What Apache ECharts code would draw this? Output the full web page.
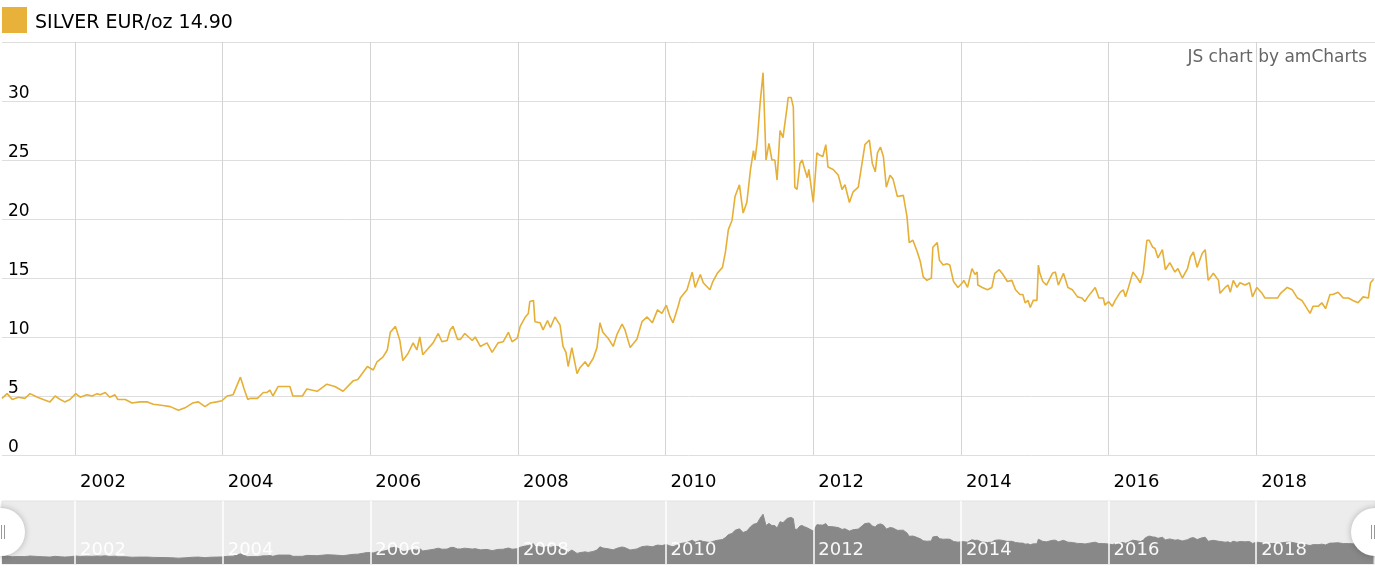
<!DOCTYPE html>
<html><head><meta charset="utf-8">
<script src="https://cdn.jsdelivr.net/npm/echarts@6/dist/echarts.min.js"></script>
<style>html,body{margin:0;padding:0;background:#fff}#c{width:1375px;height:575px}</style>
</head><body><div id="c"></div>
<script>
const seriesName = 'SILVER EUR/oz';
const creditText = 'JS chart by amCharts';
const yearTicks = [2002, 2004, 2006, 2008, 2010, 2012, 2014, 2016, 2018];
const xMin = 2001.01, xMax = 2019.61;

// dates as decimal years
const years = [
2001.01,2001.08,2001.15,2001.23,2001.32,2001.39,2001.49,2001.57,2001.66,2001.73,2001.80,2001.86,2001.93,
2002.01,2002.07,2002.16,2002.23,2002.30,2002.34,2002.41,2002.47,2002.54,2002.58,2002.68,2002.77,2002.88,2002.98,
2003.06,2003.19,2003.29,2003.40,2003.49,2003.59,2003.67,2003.76,2003.83,2003.92,2003.99,
2004.06,2004.14,2004.24,2004.29,2004.34,2004.37,2004.47,2004.55,2004.60,2004.64,2004.68,2004.75,2004.91,2004.95,
2005.08,2005.14,2005.28,2005.41,2005.52,2005.63,2005.77,2005.83,2005.96,
2006.04,2006.09,2006.17,2006.23,2006.27,2006.34,2006.36,2006.40,2006.44,2006.51,2006.58,2006.63,2006.67,2006.71,2006.78,2006.85,2006.92,2006.97,
2007.04,2007.08,2007.12,2007.18,2007.22,2007.28,2007.38,2007.42,2007.49,2007.58,2007.65,2007.73,2007.80,2007.87,2007.92,
2007.99,2008.03,2008.10,2008.14,2008.16,2008.21,2008.23,2008.30,2008.34,2008.40,2008.44,2008.50,2008.57,2008.61,2008.65,2008.68,2008.73,2008.80,2008.84,2008.91,2008.95,
2009.02,2009.07,2009.11,2009.15,2009.22,2009.29,2009.34,2009.41,2009.45,2009.52,2009.61,2009.68,2009.75,2009.82,2009.89,2009.95,
2010.01,2010.06,2010.10,2010.17,2010.20,2010.29,2010.36,2010.40,2010.47,2010.51,2010.60,2010.64,2010.70,2010.77,2010.81,2010.85,2010.90,2010.94,2011.00,
2011.05,2011.10,2011.15,2011.19,2011.21,2011.24,2011.28,2011.32,2011.33,2011.36,2011.38,2011.40,2011.44,2011.48,2011.51,2011.55,2011.59,2011.65,2011.66,2011.70,2011.73,2011.75,2011.78,2011.82,2011.85,2011.88,2011.92,2011.94,
2012.00,2012.05,2012.09,2012.13,2012.17,2012.20,2012.27,2012.34,2012.39,2012.43,2012.49,2012.54,2012.61,2012.66,2012.70,2012.76,2012.80,2012.84,2012.87,2012.91,2012.95,2012.99,
2013.04,2013.08,2013.14,2013.22,2013.27,2013.30,2013.35,2013.41,2013.45,2013.49,2013.54,2013.60,2013.62,2013.68,2013.71,2013.76,2013.81,2013.85,2013.90,2013.96,
2014.02,2014.04,2014.09,2014.15,2014.19,2014.22,2014.23,2014.29,2014.36,2014.42,2014.46,2014.52,2014.57,2014.63,2014.69,2014.74,2014.80,2014.84,2014.87,2014.91,2014.94,2014.98,
2015.03,2015.05,2015.07,2015.11,2015.16,2015.24,2015.28,2015.32,2015.39,2015.45,2015.51,2015.58,2015.64,2015.68,2015.72,2015.82,2015.87,2015.93,2015.95,2016.00,
2016.05,2016.09,2016.16,2016.20,2016.23,2016.27,2016.33,2016.39,2016.43,2016.47,2016.50,2016.52,2016.55,2016.60,2016.63,2016.67,2016.73,2016.77,2016.83,2016.90,2016.94,2017.00,
2017.07,2017.11,2017.15,2017.20,2017.27,2017.31,2017.35,2017.42,2017.49,2017.51,2017.58,2017.62,2017.65,2017.69,2017.74,2017.78,2017.85,2017.91,2017.95,
2018.01,2018.08,2018.12,2018.19,2018.29,2018.33,2018.42,2018.49,2018.56,2018.62,2018.69,2018.73,2018.77,2018.84,2018.89,2018.94,
2019.00,2019.04,2019.11,2019.18,2019.25,2019.31,2019.38,2019.45,2019.52,2019.55,2019.59
];

// EUR per ounce
const prices = [
4.8,5.2,4.7,4.9,4.8,5.2,4.9,4.7,4.5,5.0,4.7,4.5,4.7,
5.2,4.9,5.1,5.0,5.2,5.1,5.3,4.9,5.1,4.7,4.7,4.4,4.5,4.5,
4.3,4.2,4.1,3.8,4.0,4.4,4.5,4.1,4.4,4.5,4.6,
5.0,5.1,6.6,5.6,4.7,4.8,4.8,5.3,5.3,5.5,5.0,5.8,5.8,5.0,
5.0,5.6,5.4,6.0,5.8,5.4,6.3,6.4,7.5,
7.2,7.9,8.3,8.9,10.4,10.9,11.0,9.7,8.0,8.6,9.5,8.9,10.0,8.5,9.0,9.5,10.3,9.6,
9.7,10.6,10.9,9.8,9.8,10.3,9.7,10.0,9.2,9.5,8.7,9.5,9.6,10.4,9.6,
9.9,10.9,11.7,12.0,13.0,13.1,11.3,11.2,10.6,11.4,10.8,11.7,11.0,9.2,8.7,7.5,9.1,6.9,7.4,7.9,7.5,
8.2,9.1,11.2,10.4,9.9,9.2,10.2,11.1,10.6,9.1,9.8,11.3,11.7,11.2,12.3,12.0,
12.7,11.7,11.2,12.6,13.3,14.0,15.5,14.2,15.3,14.6,14.0,14.7,15.4,15.9,17.2,19.1,19.9,21.9,22.9,
20.5,21.4,24.2,25.8,25.0,26.5,29.8,32.4,32.4,25.0,25.0,26.4,25.0,25.0,23.3,27.5,26.9,29.7,30.3,30.3,29.5,22.7,22.5,24.7,25.0,24.3,23.5,24.2,
21.4,25.6,25.4,25.3,26.3,24.4,24.2,23.7,22.5,22.9,21.4,22.3,22.7,24.7,26.3,26.7,24.7,24.0,25.6,26.1,25.3,22.7,
23.7,23.4,21.9,22.0,20.2,18.0,18.2,17.2,16.4,15.1,14.8,15.0,17.6,18.0,16.5,16.1,16.2,16.1,14.7,14.2,
14.6,14.8,14.2,15.8,15.3,15.5,14.4,14.2,14.0,14.2,15.4,15.7,15.3,14.7,14.8,14.0,13.6,13.6,12.9,13.1,12.5,13.1,
13.1,16.1,15.4,14.7,14.4,15.4,15.5,14.4,15.4,14.2,14.0,13.4,13.3,13.0,13.4,14.2,13.3,13.3,12.7,13.0,
12.6,13.1,13.8,14.0,13.4,14.2,15.5,15.0,14.6,15.4,17.1,18.2,18.2,17.6,17.5,16.7,17.4,15.7,16.3,15.5,15.8,15.0,
15.8,16.8,17.2,15.9,17.1,17.4,14.8,15.4,14.8,13.7,14.2,14.4,13.8,14.8,14.2,14.6,14.4,14.6,13.4,
14.2,13.7,13.3,13.3,13.3,13.7,14.2,14.0,13.3,13.1,12.4,12.0,12.6,12.6,12.9,12.4,
13.6,13.6,13.8,13.3,13.3,13.1,12.9,13.4,13.3,14.6,14.9
];

const data = years.map((y, i) => [y, prices[i]]);
const lastValue = prices[prices.length - 1];
const FONT = 'DejaVu Sans';

const chart = echarts.init(document.getElementById('c'), null, {renderer: 'canvas'});
chart.setOption({
  animation: false,
  textStyle: {fontFamily: FONT},
  legend: {
    left: 2, top: 7, padding: 0, itemWidth: 25, itemHeight: 26, icon: 'rect',
    data: [seriesName],
    formatter: n => '{t|' + n + ' ' + lastValue.toFixed(2) + '}',
    textStyle: {
      fontSize: 19, color: '#000', fontFamily: FONT,
      rich: {t: {fontSize: 19, color: '#000', fontFamily: FONT, padding: [6, 0, 0, 3]}}
    },
    selectedMode: false
  },
  grid: [
    {left: 2, right: 0, top: 42, height: 413},
    {left: 2, right: 0, top: 501, height: 63, show: true, backgroundColor: '#ececec', borderColor: '#e2e2e2', borderWidth: 1}
  ],
  xAxis: [
    {
      type: 'value', gridIndex: 0, min: xMin, max: xMax,
      axisLine: {show: false},
      axisTick: {show: false, customValues: yearTicks},
      axisLabel: {customValues: yearTicks, formatter: v => String(v), align: 'left', padding: [0, 0, 0, 5],
        margin: 18, fontSize: 18, color: '#000', fontFamily: FONT},
      splitLine: {show: true, lineStyle: {color: '#d4d4d4', width: 1}}
    },
    {
      type: 'value', gridIndex: 1, min: xMin, max: xMax, z: 5,
      axisLine: {show: false},
      axisTick: {show: false, customValues: yearTicks},
      axisLabel: {customValues: yearTicks, formatter: v => String(v), inside: true, align: 'left', verticalAlign: 'bottom',
        padding: [0, 0, 0, 5], margin: 5, fontSize: 18, color: 'rgba(255,255,255,0.95)', fontFamily: FONT},
      splitLine: {show: true, lineStyle: {color: '#ffffff', width: 1.5}}
    }
  ],
  yAxis: [
    {
      type: 'value', gridIndex: 0, min: 0, max: 35, interval: 5,
      axisLine: {show: false}, axisTick: {show: false},
      axisLabel: {inside: true, align: 'left', verticalAlign: 'bottom', margin: 6,
        formatter: v => '{v|' + v + '}',
        rich: {v: {fontSize: 17, color: '#000', fontFamily: FONT, lineHeight: 14}},
        fontSize: 17, color: '#000', showMaxLabel: false, fontFamily: FONT},
      splitLine: {lineStyle: {color: '#dedede', width: 1}}
    },
    {
      type: 'value', gridIndex: 1, min: 0, max: 41, show: false, splitLine: {show: false}
    }
  ],
  series: [
    {
      name: seriesName, type: 'line', xAxisIndex: 0, yAxisIndex: 0, data: data,
      showSymbol: false, symbol: 'none', color: '#E8B23A',
      lineStyle: {color: '#E6AF35', width: 1.6}, z: 3
    },
    {
      name: 'scrollbar', type: 'line', xAxisIndex: 1, yAxisIndex: 1, data: data,
      showSymbol: false, symbol: 'none', silent: true,
      lineStyle: {color: '#8a8a8a', width: 1}, areaStyle: {color: '#888888', opacity: 1}, z: 2
    }
  ],
  graphic: [
    {type: 'text', right: 8, top: 49, style: {text: creditText, fontSize: 17, fill: '#666', fontFamily: FONT}},
    {type: 'circle', shape: {cx: 1, cy: 532, r: 24}, z: 100,
      style: {fill: '#fff', shadowBlur: 6, shadowColor: 'rgba(0,0,0,0.25)'}},
    {type: 'rect', shape: {x: 1, y: 525, width: 1, height: 14}, z: 101, style: {fill: '#999'}},
    {type: 'rect', shape: {x: 4, y: 525, width: 1, height: 14}, z: 101, style: {fill: '#999'}},
    {type: 'circle', shape: {cx: 1375, cy: 532, r: 24}, z: 100,
      style: {fill: '#fff', shadowBlur: 6, shadowColor: 'rgba(0,0,0,0.25)'}},
    {type: 'rect', shape: {x: 1371, y: 525, width: 1, height: 14}, z: 101, style: {fill: '#999'}},
    {type: 'rect', shape: {x: 1374, y: 525, width: 1, height: 14}, z: 101, style: {fill: '#999'}}
  ]
});
</script></body></html>
